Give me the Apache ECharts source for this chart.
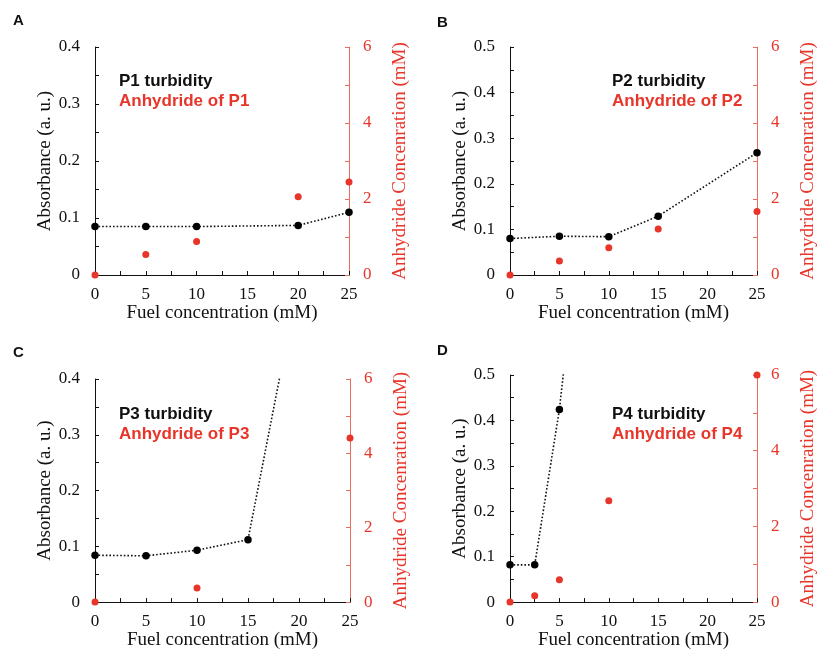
<!DOCTYPE html>
<html>
<head>
<meta charset="utf-8">
<script src="https://cdn.jsdelivr.net/npm/echarts@6/dist/echarts.min.js"></script>
<style>
  html, body { margin: 0; padding: 0; background: #fff; }
  #chart { width: 819px; height: 651px; }
</style>
</head>
<body>
<div id="chart"></div>
<script>
// ---- Data: turbidity (absorbance) and anhydride concentration vs. fuel ----
// Panel A – P1
const p1TurbFuel = [0, 5, 10, 20, 25];
const p1Turbidity = [0.085, 0.085, 0.085, 0.087, 0.110];
const p1AnhFuel = [0, 5, 10, 20, 25];
const p1Anhydride = [0, 0.54, 0.88, 2.06, 2.45];

// Panel B – P2
const p2TurbFuel = [0, 5, 10, 15, 25];
const p2Turbidity = [0.080, 0.085, 0.084, 0.129, 0.268];
const p2AnhFuel = [0, 5, 10, 15, 25];
const p2Anhydride = [0, 0.37, 0.72, 1.21, 1.67];

// Panel C – P3 (trend continues off the top of the axis)
const p3TurbFuel = [0, 5, 10, 15];
const p3Turbidity = [0.084, 0.083, 0.093, 0.112];
const p3TrendFuel = [0, 5, 10, 15, 20];
const p3Trend = [0.084, 0.083, 0.093, 0.112, 0.58];
const p3AnhFuel = [0, 10, 25];
const p3Anhydride = [0, 0.38, 4.41];

// Panel D – P4 (trend continues off the top of the axis)
const p4TurbFuel = [0, 2.5, 5];
const p4Turbidity = [0.082, 0.082, 0.424];
const p4TrendFuel = [0, 2.5, 5, 6];
const p4Trend = [0.082, 0.082, 0.424, 0.62];
const p4AnhFuel = [0, 2.5, 5, 10, 25];
const p4Anhydride = [0, 0.17, 0.59, 2.68, 6.0];

// Axis ranges
const fuelMax = 25;
const absMaxPanels = [0.4, 0.5, 0.4, 0.5];
const anhMax = 6;

// Texts
const panelLetters = ['A', 'B', 'C', 'D'];
const turbidityNames = ['P1 turbidity', 'P2 turbidity', 'P3 turbidity', 'P4 turbidity'];
const anhydrideNames = ['Anhydride of P1', 'Anhydride of P2', 'Anhydride of P3', 'Anhydride of P4'];
const xName = 'Fuel concentration (mM)';
const yLeftName = 'Absorbance (a. u.)';
const yRightName = 'Anhydride Concenration (mM)';

// ---- Styling / layout ----
const RED = '#e8352a';
const RED_AXIS = '#ea6a5c';
const BLACK = '#111';
const SERIF = 'Liberation Serif';
const SANS = 'Liberation Sans';

const grids = [
  { left: 95, top: 47, width: 254, height: 228 },
  { left: 510, top: 47, width: 256, height: 228 },
  { left: 95, top: 379, width: 255, height: 228 },
  { left: 510, top: 375, width: 256, height: 231 }
];
const letterPos = [[13, 21], [437, 23], [13, 353], [437, 351]];
const legendPos = [[119, 81], [612, 81], [119, 414], [612, 414]];

const zip = (xs, ys) => xs.map((x, i) => [x, ys[i]]);

const panels = [
  { turb: zip(p1TurbFuel, p1Turbidity), trend: zip(p1TurbFuel, p1Turbidity), anh: zip(p1AnhFuel, p1Anhydride) },
  { turb: zip(p2TurbFuel, p2Turbidity), trend: zip(p2TurbFuel, p2Turbidity), anh: zip(p2AnhFuel, p2Anhydride) },
  { turb: zip(p3TurbFuel, p3Turbidity), trend: zip(p3TrendFuel, p3Trend), anh: zip(p3AnhFuel, p3Anhydride) },
  { turb: zip(p4TurbFuel, p4Turbidity), trend: zip(p4TrendFuel, p4Trend), anh: zip(p4AnhFuel, p4Anhydride) }
];

const xAxes = [], yAxes = [], series = [], graphics = [];

panels.forEach((p, i) => {
  xAxes.push({
    type: 'value', gridIndex: i, min: 0, max: fuelMax, interval: 5,
    name: xName, nameLocation: 'middle', nameGap: 23,
    nameTextStyle: { fontFamily: SERIF, fontSize: 19, color: BLACK },
    axisLine: { onZero: false, lineStyle: { color: BLACK, width: 1 } },
    axisTick: { inside: true, length: 4, lineStyle: { color: BLACK } },
    minorTick: { show: true, splitNumber: 2, length: 4, lineStyle: { color: BLACK } },
    axisLabel: { fontFamily: SERIF, fontSize: 17, color: BLACK, margin: 11 },
    splitLine: { show: false }
  });
  const yMax = absMaxPanels[i];
  yAxes.push({
    type: 'value', gridIndex: i, position: 'left', min: 0, max: yMax, interval: 0.1,
    name: yLeftName, nameLocation: 'middle', nameGap: 37,
    nameTextStyle: { fontFamily: SERIF, fontSize: 19, color: BLACK },
    axisLine: { show: true, onZero: false, lineStyle: { color: BLACK, width: 1 } },
    axisTick: { show: true, inside: true, length: 4, lineStyle: { color: BLACK } },
    minorTick: { show: true, splitNumber: 2, length: 4, lineStyle: { color: BLACK } },
    axisLabel: { fontFamily: SERIF, fontSize: 17, color: BLACK, margin: 15 },
    splitLine: { show: false }
  });
  yAxes.push({
    type: 'value', gridIndex: i, position: 'right', min: 0, max: anhMax, interval: 2,
    name: yRightName, nameLocation: 'middle', nameGap: 42,
    nameTextStyle: { fontFamily: SERIF, fontSize: 19, color: RED },
    axisLine: { show: true, onZero: false, lineStyle: { color: RED_AXIS, width: 1 } },
    axisTick: { show: true, inside: true, length: 4, lineStyle: { color: RED_AXIS } },
    minorTick: { show: true, splitNumber: 2, length: 4, lineStyle: { color: RED_AXIS } },
    axisLabel: { fontFamily: SERIF, fontSize: 17, color: RED, margin: 14 },
    splitLine: { show: false }
  });

  // dotted trend through the turbidity points
  series.push({
    type: 'line', xAxisIndex: i, yAxisIndex: i * 2, data: p.trend,
    showSymbol: false, clip: true, silent: true, z: 2,
    lineStyle: { color: BLACK, width: 1.6, type: [1.6, 2] }
  });
  // anhydride concentration (right axis)
  series.push({
    type: 'scatter', xAxisIndex: i, yAxisIndex: i * 2 + 1, data: p.anh,
    symbolSize: 7, itemStyle: { color: RED, opacity: 1 }, z: 3, clip: false
  });
  // turbidity points (left axis)
  series.push({
    type: 'scatter', xAxisIndex: i, yAxisIndex: i * 2, data: p.turb,
    symbolSize: 7.5, itemStyle: { color: '#000', opacity: 1 }, z: 4
  });

  graphics.push({
    type: 'text', left: letterPos[i][0], top: letterPos[i][1] - 8,
    style: { text: panelLetters[i], font: 'bold 15px ' + SANS, fill: BLACK }
  });
  graphics.push({
    type: 'text', x: legendPos[i][0], y: legendPos[i][1],
    style: { text: turbidityNames[i], font: 'bold 17px ' + SANS, fill: BLACK, verticalAlign: 'middle' }
  });
  graphics.push({
    type: 'text', x: legendPos[i][0], y: legendPos[i][1] + 20.5,
    style: { text: anhydrideNames[i], font: 'bold 17px ' + SANS, fill: RED, verticalAlign: 'middle' }
  });
});

const chart = echarts.init(document.getElementById('chart'), null, { renderer: 'canvas' });
chart.setOption({
  animation: false,
  backgroundColor: '#fff',
  grid: grids,
  xAxis: xAxes,
  yAxis: yAxes,
  series: series,
  graphic: graphics
});
</script>
</body>
</html>
